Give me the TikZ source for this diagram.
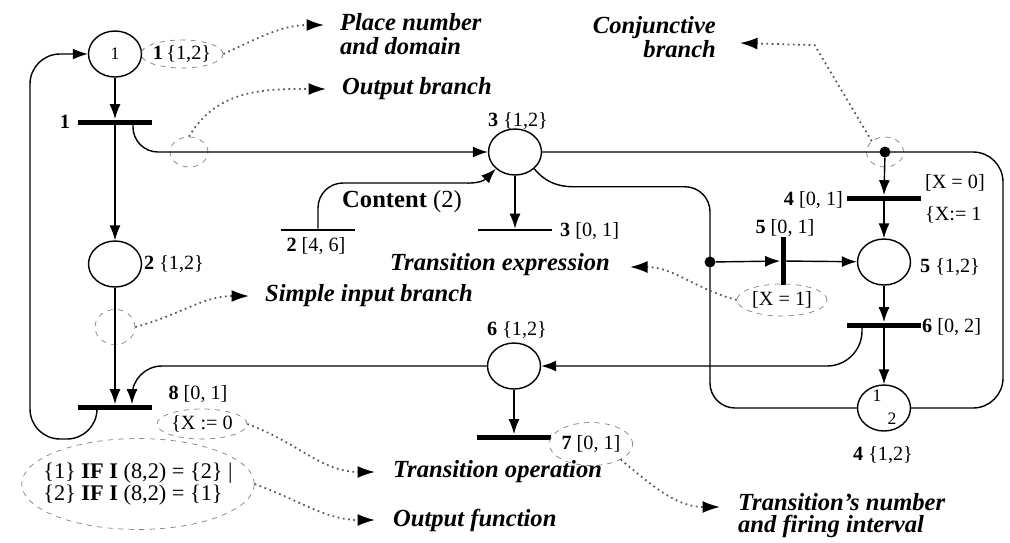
\documentclass[tikz,border=0pt]{standalone}
\usepackage{fontspec}
\setmainfont{Liberation Serif}
\usetikzlibrary{arrows.meta,shapes.geometric,calc}

\begin{document}
\begin{tikzpicture}[x=0.02cm, y=-0.02cm,
        >={Latex[length=0.3cm,width=0.22cm]},
        place/.style={draw, thick, ellipse, minimum width=1.06cm, minimum height=0.92cm, inner sep=0pt, font=\fontsize{10}{11}\selectfont},
        bar/.style={fill=black, inner sep=0pt, minimum width=1.48cm, minimum height=0.1cm},
        thinbar/.style={bar, minimum height=0.04cm},
        junction/.style={circle, fill=black, inner sep=0pt, minimum size=0.22cm},
        lab/.style={inner sep=1pt, font=\fontsize{11.5}{13}\selectfont},
        note/.style={inner sep=1pt, align=left, font=\fontsize{14}{14}\selectfont\bfseries\itshape},
        marker/.style={draw=gray, dashed, ellipse, inner sep=0pt},
        hint/.style={-{Latex[length=0.35cm,width=0.24cm,color=black]}, dotted, line width=1pt, draw=gray!70!black}]
        \useasboundingbox (0,0) rectangle (1010,542);

        \node[place] (place_1) at (115,54) {1};
        \node[lab, marker, minimum height=0.56cm] (place_1_label) at (182,54) {\textbf{1}\,\{1,2\}};
        \node[bar] (trans_1) at (115,122) {};
        \node[lab] (trans_1_label) at (65,122) {\textbf{1}};

        \node[place] (place_2) at (115,264) {};
        \node[lab, anchor=west] (place_2_label) at (142,264) {\textbf{2} \{1,2\}};
        \node[marker, minimum width=0.8cm, minimum height=0.7cm] (simple_mark) at (115,327) {};

        \node[bar] (trans_8) at (115,407) {};
        \node[lab] (trans_8_label) at (198,394) {\textbf{8} [0, 1]};
        \node[lab, marker, minimum width=1.8cm, minimum height=0.6cm] (trans_8_oper) at (202,424) {\{X := 0};
        \node[lab, marker, align=left, inner xsep=-0.25cm, inner ysep=0.22cm, font=\fontsize{12.7}{11.5}\selectfont] (output_fn) at (138,484) {\{1\} \textbf{IF I} (8,2) = \{2\} |\\\{2\} \textbf{IF I} (8,2) = \{1\}};

        \node[place] (place_3) at (515,152) {};
        \node[lab] (place_3_label) at (518,121) {\textbf{3} \{1,2\}};
        \node[marker, minimum width=0.76cm, minimum height=0.6cm] (output_mark) at (189,152) {};

        \node[thinbar] (trans_2) at (318,230) {};
        \node[lab] (trans_2_label) at (316,246) {\textbf{2} [4, 6]};
        \node[inner sep=1pt, font=\fontsize{14}{15}\selectfont] (content) at (402,202) {\textbf{Content} (2)};

        \node[thinbar] (trans_3) at (515,230) {};
        \node[lab, anchor=west] (trans_3_label) at (558,231) {\textbf{3} [0, 1]};

        \node[junction] (conj) at (885,152) {};
        \node[marker, minimum width=0.74cm, minimum height=0.6cm] (conj_mark) at (885,152) {};
        \coordinate (right_turn) at (1003,280);

        \node[bar] (trans_4) at (884,198) {};
        \node[lab, anchor=east] (trans_4_label) at (845,200) {\textbf{4} [0, 1]};
        \node[lab, anchor=west] (trans_4_cond) at (923,183) {[X = 0]};
        \node[lab, anchor=west] (trans_4_oper) at (923,215) {\{X:= 1};

        \node[place] (place_5) at (884,262) {};
        \node[lab, anchor=west] (place_5_label) at (918,267) {\textbf{5} \{1,2\}};

        \node[junction] (split) at (710,262) {};
        \node[bar, minimum width=0.1cm, minimum height=0.96cm] (trans_5) at (783,261) {};
        \node[lab] (trans_5_label) at (785,228) {\textbf{5} [0, 1]};
        \node[lab, marker, minimum width=1.8cm, minimum height=0.64cm] (trans_5_cond) at (782,300) {[X = 1]};

        \node[bar] (trans_6) at (884,325) {};
        \node[lab, anchor=west] (trans_6_label) at (920,327) {\textbf{6} [0, 2]};

        \node[place] (place_4) at (884,408) {};
        \node[font=\fontsize{10}{11}\selectfont, inner sep=0pt] (place_4_tok_1) at (877,396) {1};
        \node[font=\fontsize{10}{11}\selectfont, inner sep=0pt] (place_4_tok_2) at (892,419) {2};
        \node[lab] (place_4_label) at (883,455) {\textbf{4} \{1,2\}};

        \node[place] (place_6) at (514,366) {};
        \node[lab] (place_6_label) at (517,330) {\textbf{6} \{1,2\}};
        \node[bar] (trans_7) at (514,437) {};
        \node[lab, marker, minimum width=1.56cm, minimum height=0.86cm] (trans_7_label) at (591,444) {\textbf{7} [0, 1]};

        \node[note, anchor=west] (place_note) at (338,34) {Place number\\and domain};
        \node[note, anchor=west] (branch_note) at (340,89) {Output branch};
        \node[note, align=right, anchor=east] (conj_note) at (718,37) {Conjunctive\\branch};
        \node[note, anchor=west] (simple_note) at (263,296) {Simple input branch};
        \node[note, anchor=west] (expr_note) at (388,265) {Transition expression};
        \node[note, anchor=west] (oper_note) at (391,472) {Transition operation};
        \node[note, anchor=west] (fn_note) at (391,520) {Output function};
        \node[note, anchor=west, font=\fontsize{14}{12.5}\selectfont\bfseries\itshape] (number_note) at (736,516) {Transition's number\\and firing interval};

        \draw[->, thick] (place_1) -- (trans_1.north);
        \draw[->, thick] (trans_1) -- (place_2);
        \draw[->, thick] (place_2) -- (trans_8.north);
        \draw[->, thick, rounded corners=0.5cm] ($(trans_1)+(18,0)$) |- (place_3);
        \draw[->, thick, rounded corners=0.5cm] (trans_2) |- ++(125,-47) to[out=0,in=225] (place_3.south west);
        \draw[->, thick] (place_3) -- (trans_3.north);
        \draw[thick, rounded corners=0.6cm] (place_3) -- (conj.center) -| (right_turn) |- (place_4);
        \draw[thick] (place_3.south east) to[out=-50,in=180] ++(40,18) [rounded corners=0.5cm] -| (split.center) |- (place_4);
        \draw[->, thick] (conj) -- (trans_4.north);
        \draw[->, thick] (trans_4) -- (place_5);
        \draw[->, thick] (split) -- (trans_5);
        \draw[->, thick] (trans_5) -- (place_5);
        \draw[->, thick] (place_5) -- (trans_6.north);
        \draw[->, thick] (trans_6) -- (place_4);
        \draw[->, thick, rounded corners=0.7cm] ($(trans_6)+(-22,0)$) |- (place_6);
        \draw[->, thick] (place_6) -- (trans_7.north);
        \draw[->, thick, rounded corners=0.6cm] (place_6) -| ($(trans_8.north)+(17,0)$);
        \draw[->, thick, rounded corners=0.6cm] ($(trans_8)+(-18,0)$) |- ++(-67,32) |- (place_1);

        \draw[hint] (place_1_label.east) to[out=25,in=180] ($(place_note.west)+(-14,-9)$);
        \draw[hint] (output_mark.north) to[out=60,in=180] ($(branch_note.west)+(-14,0)$);
        \draw[hint] (conj_mark.north west) -- ++(-57,-96) -- ($(conj_note.east)+(22,6)$);
        \draw[hint] (simple_mark.east) to[out=15,in=180] ($(simple_note.west)+(-14,0)$);
        \draw[hint] (trans_5_cond.west) to[out=165,in=0] ($(expr_note.east)+(18,2)$);
        \draw[hint] (trans_8_oper.east) to[out=-20,in=180] ($(oper_note.west)+(-16,0)$);
        \draw[hint] (output_fn.east) to[out=-20,in=180] ($(fn_note.west)+(-16,0)$);
        \draw[hint] (trans_7_label.south east) to[out=-40,in=180] ($(number_note.west)+(-16,-9)$);
    \end{tikzpicture}
\end{document}
